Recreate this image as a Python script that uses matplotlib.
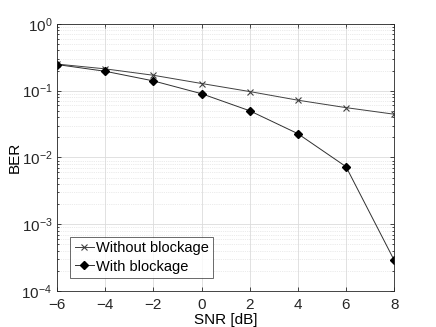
import numpy as np
import matplotlib
matplotlib.use('Agg')
import matplotlib.pyplot as plt
from matplotlib.ticker import LogLocator, NullFormatter

plt.rcParams['font.family'] = ['Liberation Sans', 'DejaVu Sans']
plt.rcParams['mathtext.fontset'] = 'custom'
plt.rcParams['mathtext.rm'] = 'Liberation Sans'
plt.rcParams['mathtext.it'] = 'Liberation Sans'

snr = [-6, -4, -2, 0, 2, 4, 6, 8]
ber_without = [0.25, 0.212, 0.17, 0.128, 0.097, 0.072, 0.0557, 0.0444]
ber_with = [0.246, 0.195, 0.14, 0.090, 0.050, 0.0227, 0.00728, 0.00029]

fig = plt.figure(figsize=(4.36, 3.27), dpi=100)
ax = fig.add_axes([0.131, 0.110, 0.773, 0.817])

ax.semilogy(snr, ber_without, color='#404040', linewidth=0.7, marker='x',
            markersize=5, markeredgewidth=0.8, markeredgecolor='#404040',
            label='Without blockage')
ax.semilogy(snr, ber_with, color='#303030', linewidth=0.7, marker='D',
            markersize=4.5, markerfacecolor='black', markeredgecolor='black',
            label='With blockage')

ax.set_xlim(-6, 8)
ax.set_ylim(1e-4, 1)
ax.set_xticks(snr)
ax.yaxis.set_major_locator(LogLocator(base=10, numticks=10))
ax.yaxis.set_minor_locator(LogLocator(base=10, subs=np.arange(2, 10), numticks=20))
ax.yaxis.set_minor_formatter(NullFormatter())

ax.grid(True, which='major', color='#dcdcdc', linewidth=0.6, linestyle='-')
ax.grid(True, which='minor', axis='y', color='#d8d8d8', linewidth=0.5, linestyle=':')
ax.set_axisbelow(True)

ax.tick_params(which='both', direction='in', top=True, right=True,
               labelsize=11, colors='#262626', length=3, width=0.6)
ax.tick_params(axis='x', pad=5)
ax.tick_params(which='minor', length=1.5)
for s in ax.spines.values():
    s.set_color('#262626')
    s.set_linewidth(0.6)

ax.set_xlabel('SNR [dB]', fontsize=11, labelpad=1)
ax.set_ylabel('BER', fontsize=11, labelpad=0)

leg = ax.legend(loc='lower left', fontsize=10.5, frameon=True, fancybox=False,
                edgecolor='#262626', borderpad=0.3, handlelength=1.3,
                handletextpad=0.15, labelspacing=0.3, borderaxespad=0.9)
leg.get_frame().set_linewidth(0.6)

fig.savefig('out.png', dpi=100)
